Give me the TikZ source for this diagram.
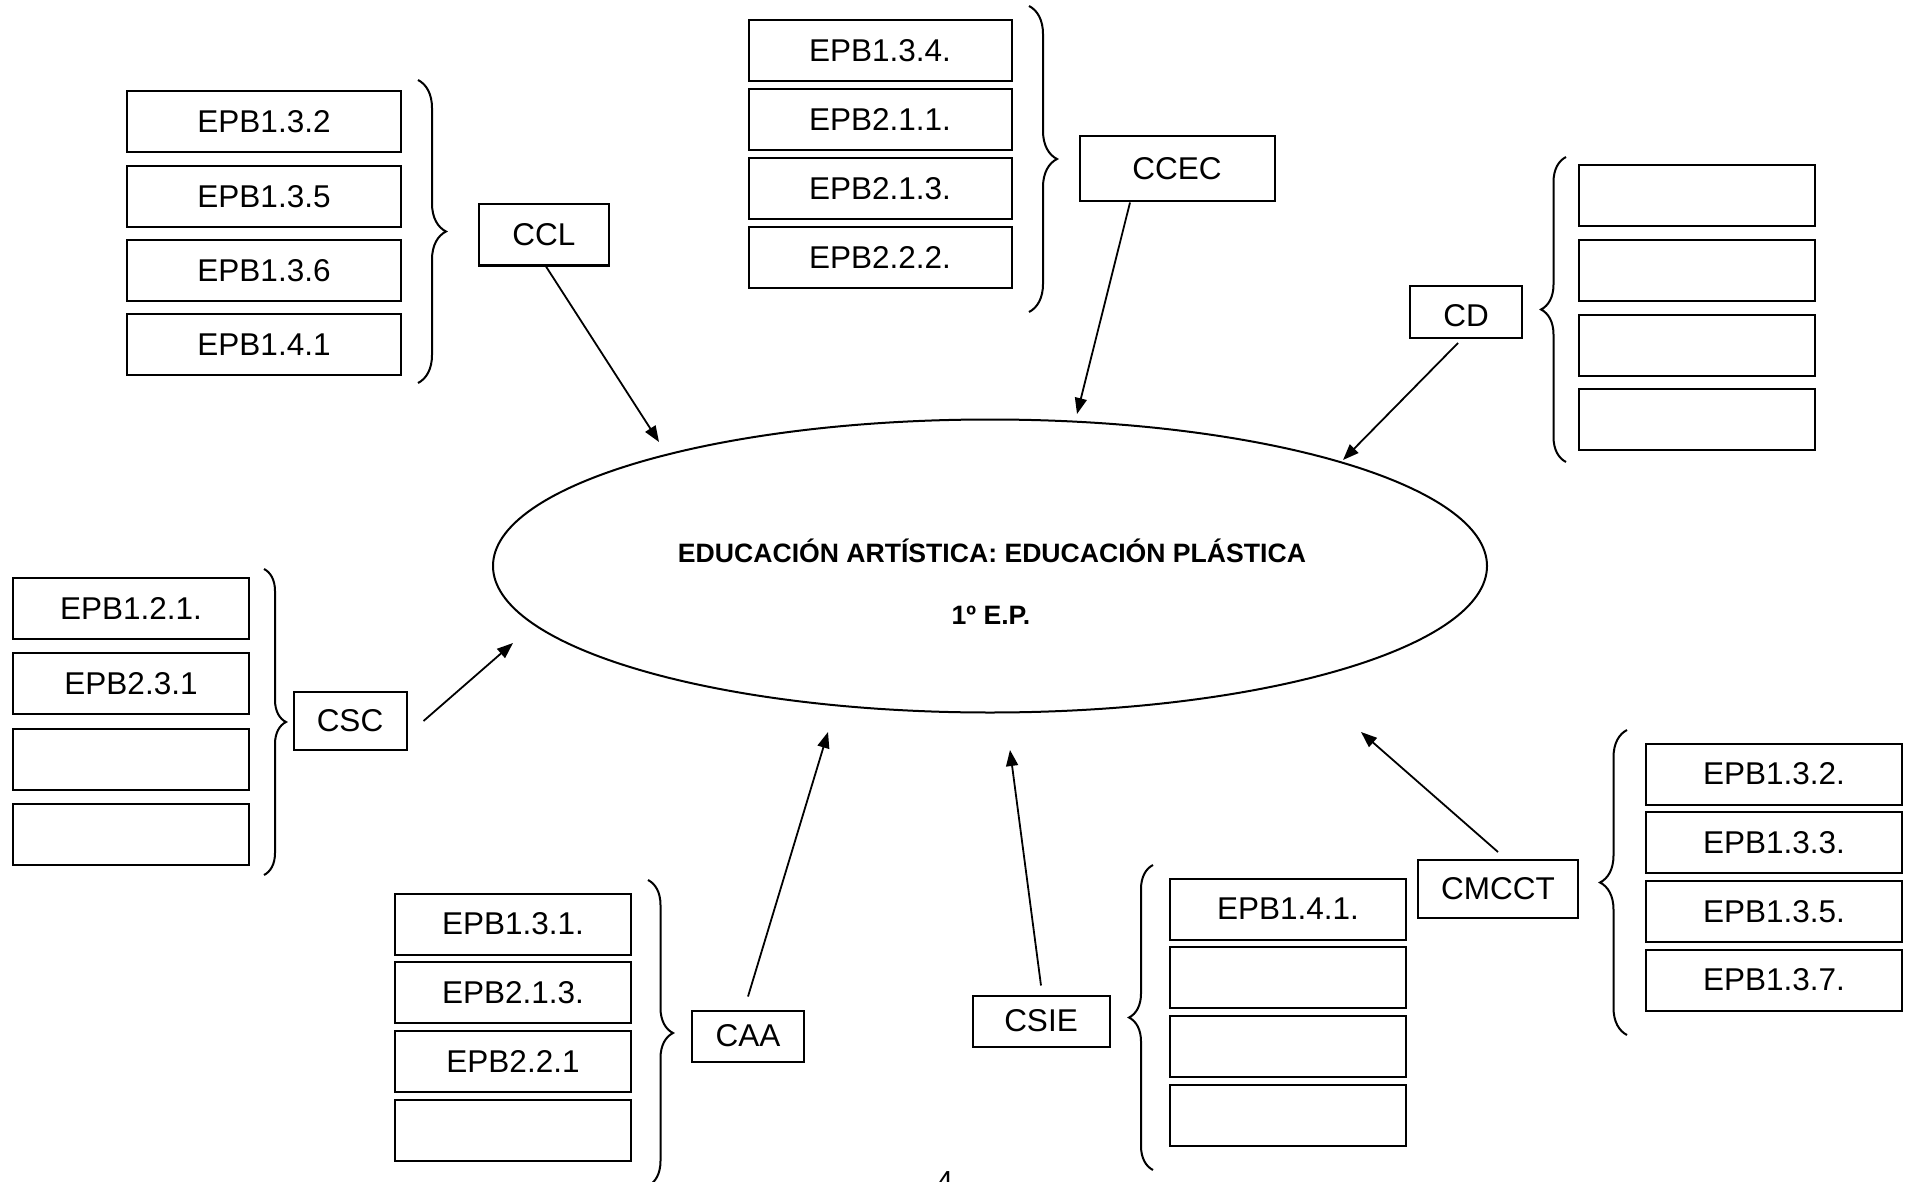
\documentclass[tikz,border=0pt]{standalone}
\usepackage{fontspec}
\setmainfont{Liberation Sans}
\usetikzlibrary{arrows.meta,shapes.geometric,decorations.pathreplacing}

\begin{document}
\begin{tikzpicture}[x=1pt, y=-1pt, ->, >={Triangle[length=16pt,width=12pt]},
    line width=2pt, node distance=68.7pt,
    box/.style={draw, rectangle, inner sep=0pt, minimum height=61pt,
                font=\fontsize{31.5}{36}\selectfont},
    wide/.style={box, minimum width=256pt},
    narrow/.style={box, minimum width=236pt},
    comp/.style={draw, rectangle, inner sep=0pt, font=\fontsize{31.5}{36}\selectfont},
    subject/.style={draw, ellipse, inner sep=0pt, minimum width=994pt, minimum height=293pt},
    title/.style={anchor=base, font=\fontsize{26.6}{31}\selectfont\bfseries},
    grp/.style={-, decorate, decoration={brace, amplitude=#1}}, grp/.default=25pt]
  \useasboundingbox (0,0) rectangle (1910,1182);

  % central subject
  \node[subject] (SUBJ) at (990,566) {};
  \node[title] (T1) at (992,562) {EDUCACIÓN ARTÍSTICA: EDUCACIÓN PLÁSTICA};
  \node[title] (T2) at (991,624) {1º E.P.};

  % CCL
  \node[box, minimum width=274pt]                        (CCL1) at (264,122)    {EPB1.3.2};
  \node[box, minimum width=274pt, node distance=74.2pt]  (CCL2) [below of=CCL1] {EPB1.3.5};
  \node[box, minimum width=274pt, node distance=74.2pt]  (CCL3) [below of=CCL2] {EPB1.3.6};
  \node[box, minimum width=274pt, node distance=74.2pt]  (CCL4) [below of=CCL3] {EPB1.4.1};
  \node[comp, minimum width=130pt, minimum height=61pt] (CCL) at (544,235) {CCL};
  \draw[grp=28pt] (418,80) -- (418,383);

  % CCEC
  \node[box, minimum width=263pt] (CCEC1) at (880,51)    {EPB1.3.4.};
  \node[box, minimum width=263pt] (CCEC2) [below of=CCEC1] {EPB2.1.1.};
  \node[box, minimum width=263pt] (CCEC3) [below of=CCEC2] {EPB2.1.3.};
  \node[box, minimum width=263pt] (CCEC4) [below of=CCEC3] {EPB2.2.2.};
  \node[comp, minimum width=195pt, minimum height=65pt] (CCEC) at (1177,169) {CCEC};
  \draw[grp=28pt] (1029,6) -- (1029,312);

  % CD
  \node[narrow]                         (CD1) at (1697,196) {};
  \node[narrow, node distance=74.6pt]   (CD2) [below of=CD1] {};
  \node[narrow, node distance=74.6pt]   (CD3) [below of=CD2] {};
  \node[narrow, node distance=74.6pt]   (CD4) [below of=CD3] {};
  \node[comp, minimum width=112pt, minimum height=52pt, text height=30pt] (CD) at (1466,312) {CD};
  \draw[grp] (1566,462) -- (1566,157);

  % CSC
  \node[narrow]                         (CSC1) at (131,608) {EPB1.2.1.};
  \node[narrow, node distance=75.5pt]   (CSC2) [below of=CSC1] {EPB2.3.1};
  \node[narrow, node distance=75.5pt]   (CSC3) [below of=CSC2] {};
  \node[narrow, node distance=75.5pt]   (CSC4) [below of=CSC3] {};
  \node[comp, minimum width=113pt, minimum height=58pt] (CSC) at (350,721) {CSC};
  \draw[grp=22pt] (264,569) -- (264,875);

  % CAA
  \node[narrow]                 (CAA1) at (513,924) {EPB1.3.1.};
  \node[narrow]                 (CAA2) [below of=CAA1] {EPB2.1.3.};
  \node[narrow]                 (CAA3) [below of=CAA2] {EPB2.2.1};
  \node[narrow]                 (CAA4) [below of=CAA3] {};
  \node[comp, minimum width=112pt, minimum height=51pt] (CAA) at (748,1036) {CAA};
  \draw[grp] (648,880) -- (648,1186);

  % CSIE
  \node[narrow]                 (CSIE1) at (1288,909) {EPB1.4.1.};
  \node[narrow]                 (CSIE2) [below of=CSIE1] {};
  \node[narrow]                 (CSIE3) [below of=CSIE2] {};
  \node[narrow]                 (CSIE4) [below of=CSIE3] {};
  \node[comp, minimum width=137pt, minimum height=51pt] (CSIE) at (1041,1021) {CSIE};
  \draw[grp=24pt] (1153,1170) -- (1153,865);

  % CMCCT
  \node[wide]                   (CMCCT1) at (1774,774) {EPB1.3.2.};
  \node[wide]                   (CMCCT2) [below of=CMCCT1] {EPB1.3.3.};
  \node[wide]                   (CMCCT3) [below of=CMCCT2] {EPB1.3.5.};
  \node[wide]                   (CMCCT4) [below of=CMCCT3] {EPB1.3.7.};
  \node[comp, minimum width=160pt, minimum height=58pt] (CMCCT) at (1498,889) {CMCCT};
  \draw[grp=27pt] (1627,1035) -- (1627,730);

  % arrow ends
  \coordinate (tCCL)   at (659,442);
  \coordinate (tCCEC)  at (1077,414);
  \coordinate (tCD)    at (1343,460);
  \coordinate (tCSC)   at (513,643);
  \coordinate (tCAA)   at (828,732);
  \coordinate (tCSIE)  at (1010,750);
  \coordinate (tCMCCT) at (1361,732);

  \path[line width=1.8pt]
        ([xshift=2pt]CCL.south)             edge (tCCL)
        ([xshift=-47pt]CCEC.south)          edge (tCCEC)
        ([xshift=-8pt,yshift=-4pt]CD.south) edge (tCD)
        ([xshift=16pt]CSC.east)             edge (tCSC)
        ([yshift=13pt]CAA.north)            edge (tCAA)
        ([yshift=9pt]CSIE.north)            edge (tCSIE)
        ([yshift=7pt]CMCCT.north)           edge (tCMCCT)
        ;

  % page number
  \node[anchor=base, font=\fontsize{29}{34}\selectfont] (PAGE) at (945,1191) {4};
\end{tikzpicture}
\end{document}
